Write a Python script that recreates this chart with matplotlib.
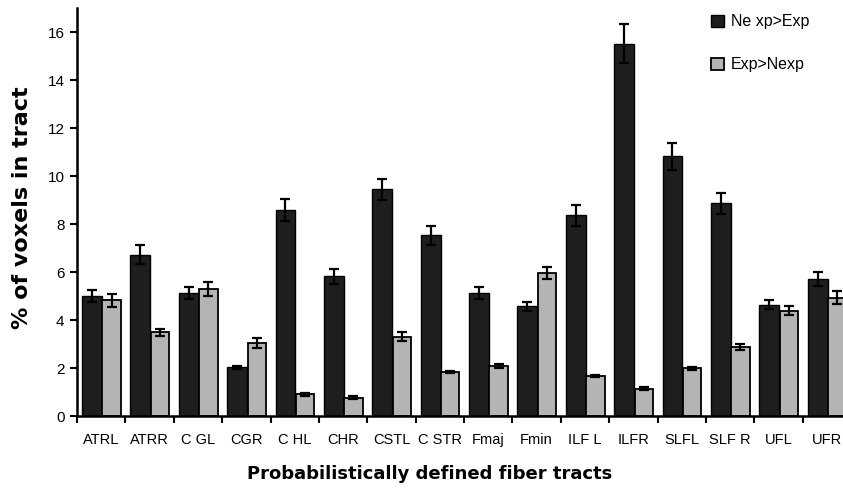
import matplotlib
matplotlib.use('Agg')
import matplotlib.pyplot as plt
import numpy as np

# values
tracts = ['ATRL', 'ATRR', 'CGL', 'CGR', 'CHL', 'CHR', 'CSTL', 'CSTR',
          'Fmaj', 'Fmin', 'ILFL', 'ILFR', 'SLFL', 'SLFR', 'UFL', 'UFR']
nexp_gt_exp = [5.01, 6.72, 5.12, 2.03, 8.60, 5.82, 9.44, 7.53,
               5.14, 4.57, 8.37, 15.52, 10.83, 8.87, 4.64, 5.71]
nexp_err = [0.25, 0.39, 0.25, 0.07, 0.46, 0.32, 0.45, 0.39,
            0.25, 0.19, 0.44, 0.80, 0.56, 0.44, 0.18, 0.31]
exp_gt_nexp = [4.82, 3.48, 5.29, 3.04, 0.90, 0.77, 3.30, 1.84,
               2.10, 5.96, 1.67, 1.14, 1.98, 2.87, 4.39, 4.92]
exp_err = [0.26, 0.15, 0.28, 0.19, 0.06, 0.07, 0.19, 0.05,
           0.08, 0.25, 0.04, 0.06, 0.05, 0.11, 0.18, 0.27]

plt.rcParams['font.family'] = ['Liberation Sans', 'DejaVu Sans']

fig = plt.figure(figsize=(8.43, 4.95), dpi=100)
ax = fig.add_axes([77 / 843, 79 / 495, 774 / 843, 408 / 495])

x = np.arange(len(tracts))
err_kw = dict(ecolor='black', capsize=3.5, elinewidth=1.6, capthick=1.6)
ax.bar(x + 0.31, nexp_gt_exp, width=0.41, color='#1e1e1e', edgecolor='black',
       linewidth=1, yerr=nexp_err, error_kw=err_kw, label='Ne xp>Exp')
ax.bar(x + 0.715, exp_gt_nexp, width=0.38, color='#b4b4b4', edgecolor='black',
       linewidth=1.3, yerr=exp_err, error_kw=err_kw, label='Exp>Nexp')

ax.set_xlim(0, len(tracts))
ax.set_ylim(0, 17)
ax.set_yticks(np.arange(0, 17, 2))
ax.set_xticks(np.arange(len(tracts) + 1))
ax.set_xticklabels([])
ax.set_xticks(x + 0.5, minor=True)
ax.set_xticklabels(['ATRL', 'ATRR', 'C GL', 'CGR', 'C HL', 'CHR', 'CSTL', 'C STR',
                    'Fmaj', 'Fmin', 'ILF L', 'ILFR', 'SLFL', 'SLF R', 'UFL', 'UFR'],
                   minor=True)
ax.tick_params(axis='x', which='minor', length=0, pad=12, labelsize=10.5)
ax.tick_params(axis='x', which='major', length=5, width=1.5, direction='out')
ax.tick_params(axis='y', length=5, width=1.5, labelsize=11, pad=4)

for s in ['top', 'right']:
    ax.spines[s].set_visible(False)
for s in ['left', 'bottom']:
    ax.spines[s].set_linewidth(1.8)

fig.text(22 / 843, 1 - 208 / 495, '% of voxels in tract', rotation=90,
         ha='center', va='center', fontsize=16, fontweight='bold',
         family='DejaVu Sans')
fig.text(430 / 843, 1 - 474 / 495, 'Probabilistically defined fiber tracts',
         ha='center', va='center', fontsize=13, fontweight='bold',
         family='DejaVu Sans')

ax.legend(loc='upper left', bbox_to_anchor=((697 - 77) / 774, 1.02),
          frameon=False, fontsize=11.5, handlelength=0.8, handleheight=0.8,
          handletextpad=0.4, labelspacing=1.75)

plt.savefig('out.png', dpi=100)
